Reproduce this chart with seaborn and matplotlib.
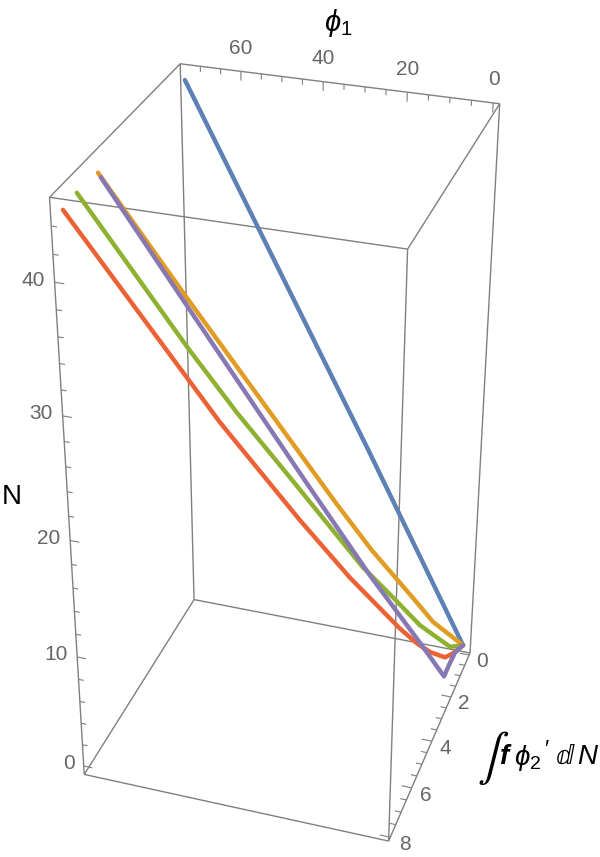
import numpy as np
import matplotlib
matplotlib.use("Agg")
import matplotlib.pyplot as plt
import seaborn as sns
from mpl_toolkits.mplot3d import Axes3D  # noqa: F401

# Trajectories: field value, accumulated integral and e-folds.
phi_blue = [72.5, 26.8, 0.2]
int_blue = [0.30, 0.08, 0.03]
n_blue = [45.3, 16.8, 0.1]

phi_orange = [72.4, 56.5, 26.8, 19.4, 10.3, 6.2, 0.2]
int_orange = [6.04, 5.00, 2.92, 2.31, 1.39, 1.02, 0.03]
n_orange = [45.2, 35.3, 16.8, 12.1, 6.4, 3.9, 0.1]

phi_purple = [71.8, 56.3, 32.6, 18.0, 6.7, 1.0, 1.0, 0.9, 0.2]
int_purple = [6.04, 5.19, 3.87, 2.99, 2.19, 1.80, 1.17, 0.66, 0.03]
n_purple = [44.9, 35.2, 20.4, 11.2, 4.2, 0.6, 0.6, 0.6, 0.1]

phi_green = [72.5, 53.0, 44.0, 34.0, 19.4, 13.5, 7.9, 4.6, 2.0, 0.2]
int_green = [7.26, 6.00, 5.33, 4.45, 3.14, 2.41, 1.75, 1.21, 0.77, 0.03]
n_green = [45.3, 33.1, 27.5, 21.3, 12.1, 8.4, 4.9, 2.9, 1.3, 0.1]

phi_red = [72.3, 45.0, 30.1, 20.3, 10.5, 7.1, 4.6, 2.1, 1.2, 0.2]
int_red = [8.11, 6.23, 4.94, 3.99, 2.81, 2.34, 1.91, 1.28, 0.76, 0.03]
n_red = [45.2, 28.1, 18.8, 12.7, 6.5, 4.4, 2.9, 1.3, 0.7, 0.1]

# Axis ranges and tick positions.
phi_range = (-1.5, 75.0)
int_range = (-0.1, 8.15)
n_range = (-0.8, 46.0)
phi_major = [0, 20, 40, 60]
phi_minor = [5, 10, 15, 25, 30, 35, 45, 50, 55, 65, 70]
int_major = [0, 2, 4, 6, 8]
int_minor = [0.5, 1, 1.5, 2.5, 3, 3.5, 4.5, 5, 5.5, 6.5, 7, 7.5]
n_major = [0, 10, 20, 30, 40]
n_minor = [2, 4, 6, 8, 12, 14, 16, 18, 22, 24, 26, 28, 32, 34, 36, 38, 42, 44]

# Perspective camera taking (phi, integral, N, 1) to figure pixels.
CAMERA = np.array([
    [-3.5285375, -14.9035822, -0.8382742, 463.9827483],
    [-0.4222447, 12.0332523, -12.0768716, 645.8308657],
    [0.0004635, -0.0128759, -0.002949, 1.0],
])
WIDTH, HEIGHT = 600, 857

FRAME = "#7f7f7f"
TICK_TEXT = "#666666"
palette = sns.color_palette(["#5e81b5", "#e19c24", "#8fb131", "#ec6235", "#8778b3"])

sns.set_theme(style="white", font="Liberation Sans")
plt.rcParams.update({
    "mathtext.fontset": "custom",
    "mathtext.rm": "Liberation Sans",
    "mathtext.it": "Liberation Sans:italic",
    "mathtext.bf": "Liberation Sans:bold",
    "mathtext.fallback": "stix",
})

fig = plt.figure(figsize=(WIDTH / 100, HEIGHT / 100), dpi=100)
ax = fig.add_axes([0, 0, 1, 1], projection="3d")
ax.set_axis_off()

# Use the fixed camera instead of the default orbit view; Line3D culls
# anything outside the clip volume, so work in normalised coordinates
# and keep the depth term negative.
half_w, half_h = WIDTH / 2, HEIGHT / 2
projection = np.vstack([
    (CAMERA[0] - half_w * CAMERA[2]) / half_w,
    (half_h * CAMERA[2] - CAMERA[1]) / half_h,
    [0, 0, 1e-3, -0.5],
    CAMERA[2],
])
ax.get_proj = lambda: projection
ax.apply_aspect = lambda position=None: None
ax.viewLim.intervalx = (-1, 1)
ax.viewLim.intervaly = (-1, 1)


def segment(start, end, lw=1.0):
    ax.plot(*zip(start, end), color=FRAME, lw=lw, solid_capstyle="butt")


def label(x, y, text, color="black", ha="center", **kwargs):
    fig.text(x / WIDTH, 1 - y / HEIGHT, text, color=color, ha=ha, va="center", **kwargs)


def tick_label(phi, integral, n, text, ha="center"):
    u, v, w = CAMERA @ np.array([phi, integral, n, 1.0])
    label(u / w, v / w, text, color=TICK_TEXT, ha=ha, fontsize=15)


# Bounding box.
p0, p1 = phi_range
i0, i1 = int_range
n0, n1 = n_range
for i in (i0, i1):
    for n in (n0, n1):
        segment((p0, i, n), (p1, i, n))
for p in (p0, p1):
    for n in (n0, n1):
        segment((p, i0, n), (p, i1, n))
    for i in (i0, i1):
        segment((p, i, n0), (p, i, n1))

# Ticks on the three labelled edges.
for values, n_len in ((phi_major, 0.7), (phi_minor, 0.42)):
    for v in values:
        segment((v, i0, n1), (v, i0, n1 - n_len), lw=0.8)
for values, length in ((n_major, 2.2), (n_minor, 1.3)):
    for v in values:
        segment((p1, i1, v), (p1 - length, i1, v), lw=0.8)
for values, length in ((int_major, 2.5), (int_minor, 1.5)):
    for v in values:
        segment((p0, v, n0), (p0 + length, v, n0), lw=0.8)

# Tick labels.
for v in phi_major:
    tick_label(v, i0, n1 + 1.7, str(v))
for v in n_major:
    tick_label(p1 + 2.3, i1, v + 0.05, str(v), ha="right")
for v in int_major:
    tick_label(p0 - 3.5, v, n0 - 0.4, str(v))

# Curves.
series = [
    (phi_blue, int_blue, n_blue),
    (phi_orange, int_orange, n_orange),
    (phi_green, int_green, n_green),
    (phi_red, int_red, n_red),
    (phi_purple, int_purple, n_purple),
]
for (phi, integral, n), color in zip(series, palette):
    ax.plot(phi, integral, n, color=color, lw=3.2,
            solid_capstyle="round", solid_joinstyle="round")

# Axis titles.
label(338, 23, r"$\phi_1$", fontsize=21)
label(12, 497, "N", fontsize=20)
label(493, 758, r"$\int$", fontsize=34, math_fontfamily="stix")
label(505, 757, "f", fontsize=20, style="italic", weight="bold")
label(528, 758, r"$\phi_2$", fontsize=20)
label(546, 750, "\u2032", fontsize=16)
label(565, 757, "\u2146", fontsize=19, family="DejaVu Sans", style="italic")
label(587, 757, "N", fontsize=20, style="italic")

fig.savefig("out.png", dpi=100)
